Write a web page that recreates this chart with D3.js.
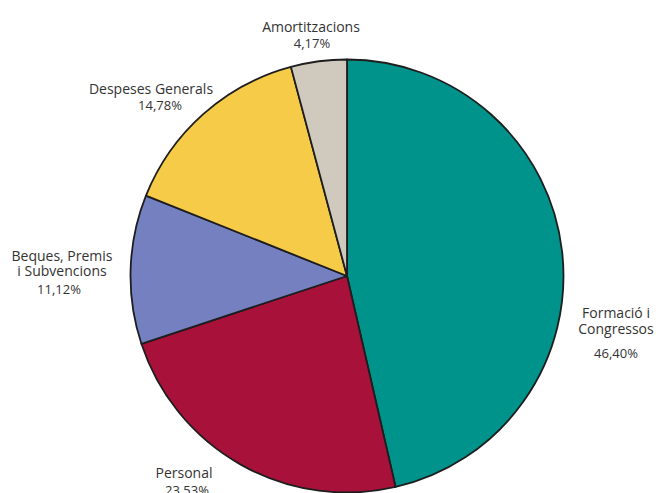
<!DOCTYPE html>
<html>
<head>
<meta charset="utf-8">
<script src="https://cdn.jsdelivr.net/npm/d3@7"></script>
<style>
  html, body { margin: 0; padding: 0; background: #fff; }
  svg { display: block; }
  text { font-family: "Open Sans", "Noto Sans", sans-serif; fill: #333; }
</style>
</head>
<body>
<svg id="chart" width="656" height="493"></svg>
<script>
// Data
const categories = ["Formació i Congressos", "Personal", "Beques, Premis i Subvencions", "Despeses Generals", "Amortitzacions"];
const values = [46.40, 23.53, 11.12, 14.78, 4.17];
const percentLabels = ["46,40%", "23,53%", "11,12%", "14,78%", "4,17%"];
const nameLines = [["Formació i", "Congressos"], ["Personal"], ["Beques, Premis", "i Subvencions"], ["Despeses Generals"], ["Amortitzacions"]];
const colors = ["#00938b", "#a8113a", "#7580c0", "#f5cb47", "#d0c9bd"];

// Layout (label anchor positions)
const labelLayout = [
  {x: 616, y: 318, lineH: 16, pctGap: 24, pdx: 0},
  {x: 184, y: 478, lineH: 16, pctGap: 17, pdx: 3},
  {x: 62,  y: 261, lineH: 15, pctGap: 18, pdx: -3},
  {x: 151, y: 94,  lineH: 16, pctGap: 16, pdx: 9},
  {x: 311, y: 32,  lineH: 16, pctGap: 16, pdx: 1}
];

const svg = d3.select("#chart");
const cx = 347, cy = 276, r = 216.5;

const pie = d3.pie().sort(null).value(d => d);
const arc = d3.arc().innerRadius(0).outerRadius(r);

const g = svg.append("g").attr("transform", `translate(${cx},${cy})`);
g.selectAll("path")
  .data(pie(values))
  .join("path")
  .attr("d", arc)
  .attr("fill", (d, i) => colors[i])
  .attr("stroke", "#1e1e1e")
  .attr("stroke-width", 1.8)
  .attr("stroke-linejoin", "round");

const labels = svg.append("g");
categories.forEach((c, i) => {
  const L = labelLayout[i];
  nameLines[i].forEach((ln, j) => {
    labels.append("text").attr("text-anchor", "middle")
      .attr("x", L.x).attr("y", L.y + j * L.lineH)
      .attr("font-size", 14).text(ln);
  });
  const lastY = L.y + (nameLines[i].length - 1) * L.lineH;
  labels.append("text").attr("text-anchor", "middle")
    .attr("x", L.x + L.pdx)
    .attr("y", lastY + L.pctGap)
    .attr("font-size", 13)
    .text(percentLabels[i]);
});
</script>
</body>
</html>
